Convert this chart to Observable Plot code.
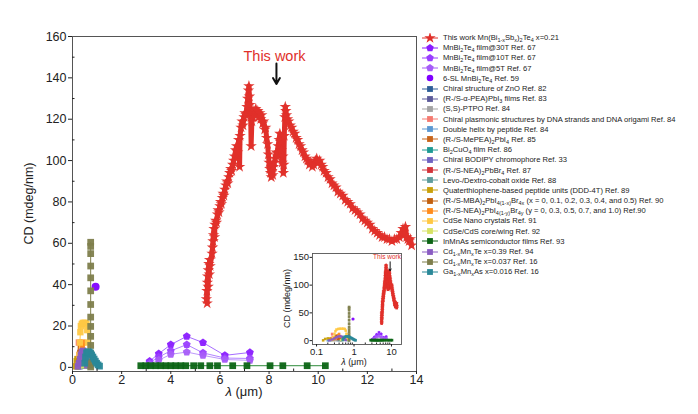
<!DOCTYPE html>
<html><head><meta charset="utf-8">
<script src="https://cdn.jsdelivr.net/npm/d3@7"></script>
<script src="https://cdn.jsdelivr.net/npm/@observablehq/plot@0.6"></script>
<style>
body{margin:0;background:#fff;font-family:"Liberation Sans",Arial,sans-serif;}
#wrap{position:relative;width:698px;height:414px;overflow:hidden;}
.abs{position:absolute;white-space:nowrap;text-align:center;color:#222;}
#legend{position:absolute;left:421px;top:32.5px;font-size:7.6px;color:#222;}
#legend .row{display:flex;align-items:center;height:10.2px;white-space:nowrap;}
#legend svg{margin-right:3px;flex:none;}
sub{font-size:72%;vertical-align:-1.5px;line-height:0;}
</style></head><body><div id="wrap"></div>
<script>
// ---------------- data ----------------
const thisWork = [[5.45,33],[5.47,37],[5.48,31],[5.49,41],[5.5,44],[5.52,39],[5.53,47],[5.55,50],[5.57,45],[5.58,52],[5.6,49],
[5.68,55],[5.7,58],[5.72,61],[5.74,64],[5.76,67],[5.78,63],[5.8,69],[5.83,71],[5.86,70],[5.9,74],[5.93,76],[5.96,75],[6.0,78],[6.03,80],[6.06,79],[6.1,82],[6.13,84],[6.16,83],[6.2,86],[6.24,88],[6.28,90],[6.32,89],[6.36,92],[6.4,94],[6.44,96],[6.48,95],[6.52,98],[6.56,100],[6.6,102],[6.64,105],[6.68,107],[6.72,104],[6.76,110],[6.8,97],[6.82,112],[6.86,116],[6.9,119],[6.94,117],[6.98,121],[7.02,123],[7.06,122],[7.1,126],[7.13,130],[7.16,134],[7.18,136],[7.2,131],[7.22,127],[7.25,123],[7.27,107],[7.3,119],[7.34,121],[7.38,124],[7.42,123],[7.46,125],[7.5,122],[7.54,124],[7.58,121],[7.62,123],[7.66,120],[7.7,122],[7.74,118],[7.78,119],[7.82,115],[7.86,116],[7.9,111],[7.94,108],[7.97,103],[8.0,99],[8.03,96],[8.06,94],[8.09,92],[8.12,95],[8.15,93],[8.18,97],[8.21,99],[8.25,101],[8.29,104],[8.33,102],[8.37,107],[8.41,110],[8.44,113],[8.47,109],[8.5,105],[8.53,99],[8.56,102],[8.58,94],[8.6,98],[8.62,112],[8.64,121],[8.66,126],[8.68,124],[8.71,122],[8.75,120],[8.8,119],[8.86,117],[8.92,116],[8.98,114],[9.04,113],[9.1,111],[9.16,110],[9.22,108],[9.28,107],[9.34,105],[9.4,104],[9.46,102],[9.52,101],[9.58,100],[9.64,98],[9.7,99],[9.76,97],[9.82,98],[9.88,100],[9.94,101],[10.0,99],[10.06,100],[10.12,98],[10.18,97],[10.24,95],[10.32,94],[10.4,92],[10.48,91],[10.56,89],[10.64,88],[10.72,87],[10.8,85],[10.9,84],[11.0,83],[11.1,81],[11.2,80],[11.3,79],[11.4,77],[11.5,76],[11.6,75],[11.7,74],[11.8,72],[11.9,71],[12.0,70],[12.1,69],[12.2,67],[12.3,66],[12.4,65],[12.5,64],[12.6,63],[12.7,63],[12.8,62],[12.9,62],[13.0,61],[13.1,62],[13.2,62],[13.3,63],[13.38,65],[13.45,67],[13.5,64],[13.55,68],[13.6,63],[13.65,62],[13.7,61],[13.75,62],[13.8,59]];

const mnbiX = [3.14, 3.51, 4.0, 4.65, 5.31, 6.2, 7.22];
const mnbi30T = [3, 6.6, 11, 15, 12, 5.8, 7.2];
const mnbi10T = [2.2, 5, 8, 11, 7, 4.5, 4.3];
const mnbi5T = [1.5, 3.5, 6.3, 7.4, 5.8, 3.8, 3.4];
const sl6 = [[0.94, 39]];
const znO = [[0.36,1],[0.38,3],[0.4,4],[0.42,3],[0.45,1]];
const peaPbI3 = [[0.45,1],[0.5,3],[0.55,2]];
const ptpo = [[0.3,0.5],[0.35,1.5],[0.4,1]];
const dnaPlasmonic = [[0.24,4],[0.26,12],[0.28,6]];
const doubleHelix = [[0.2,0.5],[0.22,1],[0.25,0.5]];
const mepea = [[0.45,2],[0.48,5],[0.5,3]];
const bi2cuo4 = [[0.5,1],[0.6,2],[0.7,1]];
const bodipy = [[0.5,2],[0.55,4],[0.6,2]];
const neaPbBr4 = [[0.38,3],[0.4,8],[0.42,5]];
const cobaltOxide = [[0.4,1],[0.5,2],[0.6,1.5]];
const ddd4t = [[0.15,0.5],[0.17,3],[0.2,4],[0.23,3.5],[0.27,2]];
const mbaPbIBr = [[0.3,4],[0.32,7],[0.34,9],[0.37,6],[0.4,3]];
const neaPbIBr = [[0.32,3],[0.35,6],[0.38,10],[0.4,12],[0.42,7]];
const cdseNano = [[0.26,1],[0.28,6],[0.3,12],[0.32,17],[0.34,20],[0.38,21],[0.42,21.5],[0.47,21.5],[0.52,21.5],[0.57,21],[0.6,18],[0.63,12],[0.66,6],[0.68,2]];
const cdseCds = [[0.45,1],[0.5,3],[0.55,5],[0.6,3]];
const inmnasX = [2.78, 2.98, 3.18, 3.39, 3.59, 3.8, 4.0, 4.2, 4.41, 4.61, 4.93, 5.22, 5.59, 5.9, 6.52, 7.1, 8.04, 8.56, 9.55, 10.29];
const inmnasY = [0.8, 0.8, 0.8, 0.8, 0.8, 0.8, 0.8, 0.8, 0.8, 0.8, 0.8, 0.8, 0.8, 0.8, 0.8, 0.8, 0.8, 0.8, 0.8, 0.8];
const cdmnte39 = [[0.22,0.5],[0.26,2],[0.3,4],[0.34,6],[0.38,7.5],[0.43,8],[0.48,7],[0.53,5],[0.57,3],[0.6,1]];
const cdmnte037X = [0.74, 0.74, 0.74, 0.74, 0.74, 0.74, 0.74, 0.74, 0.74, 0.74, 0.74, 0.74, 0.74, 0.74];
const cdmnte037Y = [0.2, 2.6, 6.6, 10.6, 15, 19.8, 24.3, 30.4, 37, 43.3, 49, 55, 58.5, 60.5];
const gamnas = [[0.5,2],[0.53,5],[0.57,7],[0.62,7.5],[0.68,7.5],[0.73,7],[0.78,6],[0.83,5],[0.88,4],[0.93,3],[0.98,2],[1.04,1.2],[1.1,0.6]];

const xTicks = [0, 2, 4, 6, 8, 10, 12, 14];
const xMinor = [1, 3, 5, 7, 9, 11, 13];
const yTicks = [0, 20, 40, 60, 80, 100, 120, 140, 160];
const yMinor = [10, 30, 50, 70, 90, 110, 130, 150];
const insetXTicks = [0.1, 1, 10];
const insetXMinor = [0.2,0.3,0.4,0.5,0.6,0.7,0.8,0.9,2,3,4,5,6,7,8,9];
const insetYTicks = [0, 50, 100, 150];
const annotMain = [{x: 8.22, y: 150.5, label: "This work"}];
const arrowMain = [{x: 8.3, y1: 147, y2: 137}];
const annotInset = [{x: 7.6, y: 150, label: "This work"}];
const arrowInset = [{x: 9.2, y1: 142, y2: 126}];

// ---------------- series ----------------
const pentagon = {draw(ctx, size){ const R = Math.sqrt(size/2.3776); for(let i=0;i<5;i++){const a=-Math.PI/2+i*2*Math.PI/5; const px=R*Math.cos(a), py=R*Math.sin(a); if(i) ctx.lineTo(px,py); else ctx.moveTo(px,py);} ctx.closePath(); }};
const pairs = a => a.map(([x,y]) => ({x, y}));
const zip = (xs, ys) => xs.map((x,i) => ({x, y: ys[i]}));
const series = [
 {label:'This work Mn(Bi<sub>1-x</sub>Sb<sub>x</sub>)<sub>2</sub>Te<sub>4</sub> x=0.21', color:"#E0302A", line:"#E0302A", lw:5, symbol:d3.symbolStar, r:3.6, data:pairs(thisWork)},
 {label:'MnBi<sub>2</sub>Te<sub>4</sub> film@30T Ref. 67', color:"#8A1CFF", line:"#A66CFF", symbol:pentagon, r:3.6, data:zip(mnbiX, mnbi30T)},
 {label:'MnBi<sub>2</sub>Te<sub>4</sub> film@10T Ref. 67', color:"#9A3EFF", line:"#B283FF", symbol:pentagon, r:3.6, data:zip(mnbiX, mnbi10T)},
 {label:'MnBi<sub>2</sub>Te<sub>4</sub> film@5T Ref. 67', color:"#A65CF8", line:"#BE99FB", symbol:pentagon, r:3.6, data:zip(mnbiX, mnbi5T)},
 {label:'6-SL MnBi<sub>2</sub>Te<sub>4</sub> Ref. 59', color:"#7F00FF", line:null, symbol:d3.symbolCircle, r:4, data:pairs(sl6)},
 {label:'Chiral structure of ZnO Ref. 82', color:"#2E5E98", line:"#2E5E98", symbol:d3.symbolSquare, r:3.6, data:pairs(znO)},
 {label:'(R-/S-α-PEA)PbI<sub>3</sub> films Ref. 83', color:"#5C5A9A", line:"#5C5A9A", symbol:d3.symbolSquare, r:3.6, data:pairs(peaPbI3)},
 {label:'(S,S)-PTPO Ref. 84', color:"#A3A3A3", line:"#A3A3A3", symbol:d3.symbolSquare, r:3.6, data:pairs(ptpo)},
 {label:'Chiral plasmonic structures by DNA strands and DNA origami Ref. 84', color:"#F47A70", line:"#F47A70", symbol:d3.symbolSquare, r:3.6, data:pairs(dnaPlasmonic)},
 {label:'Double helix by peptide Ref. 84', color:"#5B98D2", line:"#5B98D2", symbol:d3.symbolSquare, r:3.6, data:pairs(doubleHelix)},
 {label:'(R-/S-MePEA)<sub>2</sub>PbI<sub>4</sub> Ref. 85', color:"#C8641A", line:"#C8641A", symbol:d3.symbolSquare, r:3.6, data:pairs(mepea)},
 {label:'Bi<sub>2</sub>CuO<sub>4</sub> film Ref. 86', color:"#1E9A94", line:"#1E9A94", symbol:d3.symbolSquare, r:3.6, data:pairs(bi2cuo4)},
 {label:'Chiral BODIPY chromophore Ref. 33', color:"#6F62C0", line:"#6F62C0", symbol:d3.symbolSquare, r:3.6, data:pairs(bodipy)},
 {label:'(R-/S-NEA)<sub>2</sub>PbBr<sub>4</sub> Ref. 87', color:"#D3343A", line:"#D3343A", symbol:d3.symbolSquare, r:3.6, data:pairs(neaPbBr4)},
 {label:'Levo-/Dextro-cobalt oxide Ref. 88', color:"#5E9C9C", line:"#5E9C9C", symbol:d3.symbolSquare, r:3.6, data:pairs(cobaltOxide)},
 {label:'Quaterthiophene-based peptide units (DDD-4T) Ref. 89', color:"#C9A00A", line:"#C9A00A", symbol:d3.symbolSquare, r:3.6, data:pairs(ddd4t)},
 {label:'(R-/S-MBA)<sub>2</sub>PbI<sub>4(1-x)</sub>Br<sub>4x</sub> (x = 0, 0.1, 0.2, 0.3, 0.4, and 0.5) Ref. 90', color:"#C2600E", line:"#C2600E", symbol:d3.symbolSquare, r:3.6, data:pairs(mbaPbIBr)},
 {label:'(R-/S-NEA)<sub>2</sub>PbI<sub>4(1-y)</sub>Br<sub>4y</sub> (y = 0, 0.3, 0.5, 0.7, and 1.0) Ref.90', color:"#FF8C1C", line:"#FF8C1C", symbol:d3.symbolSquare, r:3.6, data:pairs(neaPbIBr)},
 {label:'CdSe Nano crystals Ref. 91', color:"#FFC844", line:"#FFC844", symbol:d3.symbolSquare, r:3.6, data:pairs(cdseNano)},
 {label:'CdSe/CdS core/wing Ref. 92', color:"#D7E264", line:"#D7E264", symbol:d3.symbolSquare, r:3.6, data:pairs(cdseCds)},
 {label:'InMnAs semiconductor films Ref. 93', color:"#0B6414", line:"#2E8B3A", symbol:d3.symbolSquare, r:3.8, data:zip(inmnasX, inmnasY)},
 {label:'Cd<sub>1-x</sub>Mn<sub>x</sub>Te x=0.39 Ref. 94', color:"#8A5CC2", line:"#8A5CC2", symbol:d3.symbolSquare, r:3.6, data:pairs(cdmnte39)},
 {label:'Cd<sub>1-x</sub>Mn<sub>x</sub>Te x=0.037 Ref. 16', color:"#7E7E4C", line:"#7E7E4C", symbol:d3.symbolSquare, r:3.8, data:zip(cdmnte037X, cdmnte037Y)},
 {label:'Ga<sub>1-x</sub>Mn<sub>x</sub>As x=0.016 Ref. 16', color:"#2A8898", line:"#2A8898", symbol:d3.symbolSquare, r:3.8, data:pairs(gamnas)}
];

function seriesMarks(scaleR, lineW){
  return series.flatMap(s => [
    s.line ? Plot.line(s.data, {x:"x", y:"y", stroke:s.line, strokeWidth:(s.lw || 1) * lineW}) : null,
    Plot.dot(s.data, {x:"x", y:"y", symbol:s.symbol, r:s.r*scaleR, fill:s.color, fillOpacity:0.95, stroke:"none"})
  ].filter(Boolean));
}

const FONT = "Liberation Sans, Arial, sans-serif";
const wrap = document.getElementById("wrap");

// ---------------- main plot ----------------
const main = Plot.plot({
  width: 698, height: 414,
  marginLeft: 72, marginRight: 282, marginTop: 36, marginBottom: 43,
  style: {fontFamily: FONT, fontSize: "12px", color: "#222", background: "transparent", overflow: "visible"},
  x: {domain: [0, 14]},
  y: {domain: [-2, 160]},
  marks: [
    ...seriesMarks(1, 1),
    Plot.frame({stroke: "#555", strokeWidth: 1}),
    Plot.axisX({ticks: xTicks, tickSize: 3, tickPadding: 1, label: null, fontSize: 12.5, tickFormat: d => d}),
    Plot.axisX({ticks: xMinor, tickSize: -2.5, label: null, tickFormat: () => ""}),
    Plot.axisY({ticks: yTicks, tickSize: 4, tickPadding: 2, label: null, fontSize: 12.5}),
    Plot.axisY({ticks: yMinor, tickSize: -2.5, label: null, tickFormat: () => ""}),
    Plot.text(annotMain, {x: "x", y: "y", text: "label", fill: "#E0302A", fontSize: 14.5}),
    Plot.arrow(arrowMain, {x: "x", y1: "y1", y2: "y2", stroke: "#111", strokeWidth: 2, headLength: 7})
  ]
});
main.style.position = "absolute"; main.style.left = "0px"; main.style.top = "0px";
wrap.appendChild(main);

// ---------------- inset ----------------
const inset = Plot.plot({
  width: 140, height: 125,
  marginLeft: 42, marginRight: 9, marginTop: 8, marginBottom: 26,
  style: {fontFamily: FONT, fontSize: "9px", color: "#222", background: "transparent", overflow: "visible"},
  x: {type: "log", domain: [0.078, 18.5]},
  y: {domain: [-7, 157]},
  marks: [
    ...seriesMarks(0.4, 0.6),
    Plot.frame({stroke: "#555", strokeWidth: 0.9}),
    Plot.axisX({ticks: insetXTicks, tickSize: 2.5, tickPadding: 1, label: null, fontSize: 9.5, tickFormat: d => String(d)}),
    Plot.axisX({ticks: insetXMinor, tickSize: -1.5, label: null, tickFormat: () => ""}),
    Plot.axisY({ticks: insetYTicks, tickSize: 2.5, tickPadding: 1, label: null, fontSize: 9.5}),
    Plot.text(annotInset, {x: "x", y: "y", text: "label", fill: "#E0302A", fontSize: 6.5}),
    Plot.arrow(arrowInset, {x: "x", y1: "y1", y2: "y2", stroke: "#111", strokeWidth: 1, headLength: 3})
  ]
});
inset.style.position = "absolute"; inset.style.left = "270px"; inset.style.top = "245px";
wrap.appendChild(inset);

// ---------------- axis titles ----------------
function addLabel(html, cx, cy, size, rotate){
  const d = document.createElement("div");
  d.className = "abs";
  d.innerHTML = html;
  d.style.fontSize = size + "px";
  d.style.width = "200px";
  d.style.left = (cx - 100) + "px";
  d.style.top = (cy - size * 0.6) + "px";
  d.style.lineHeight = (size * 1.2) + "px";
  if (rotate) d.style.transform = "rotate(-90deg)";
  wrap.appendChild(d);
}
addLabel('<i>λ</i> (μm)', 244, 392, 13);
addLabel('CD (mdeg/nm)', 29, 203, 12.5, true);
addLabel('<i>λ</i> (μm)', 354, 362, 9);
addLabel('CD (mdeg/nm)', 287, 298, 9, true);

// ---------------- legend ----------------
const legend = document.createElement("div");
legend.id = "legend";
for (const s of series) {
  const row = document.createElement("div");
  row.className = "row";
  const svg = d3.create("svg").attr("width", 19).attr("height", 10);
  if (s.line) svg.append("line").attr("x1", 1).attr("x2", 17).attr("y1", 5).attr("y2", 5).attr("stroke", s.color).attr("stroke-width", 1);
  const sz = s.symbol === d3.symbolStar ? 40 : (s.symbol === pentagon ? 38 : 34);
  svg.append("path").attr("transform", "translate(9,5)").attr("d", d3.symbol(s.symbol, sz)()).attr("fill", s.color);
  row.appendChild(svg.node());
  const t = document.createElement("span");
  t.innerHTML = s.label;
  row.appendChild(t);
  legend.appendChild(row);
}
wrap.appendChild(legend);
</script></body></html>
